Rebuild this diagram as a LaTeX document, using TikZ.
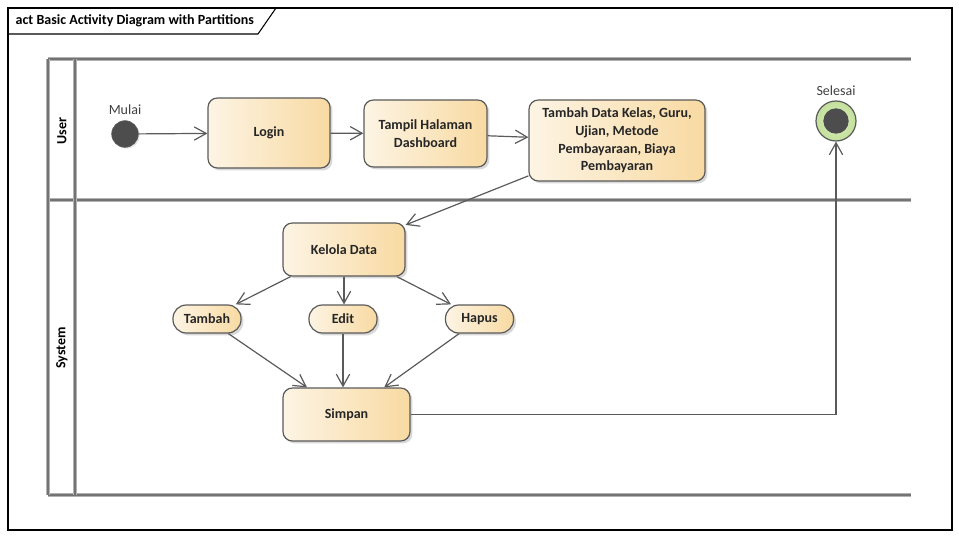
\documentclass[tikz,border=0pt]{standalone}
\usepackage{fontspec}
\setmainfont{Carlito}
\usetikzlibrary{arrows.meta,shadows}

\begin{document}
\begin{tikzpicture}[x=0.75pt,y=-0.75pt,font=\fontsize{10.5}{13}\selectfont,
  act/.style={draw=edge,line width=0.9pt,rounded corners=7pt,left color=actleft,right color=actright,
    text=black!85,font=\fontsize{10.5}{13.3}\selectfont\bfseries,align=center,
    drop shadow={shadow xshift=1.8pt,shadow yshift=-1.8pt,fill=black!25,opacity=.6}},
  pill/.style={act,rounded corners=10pt,minimum width=51pt,minimum height=21pt,inner sep=1pt},
  flow/.style={draw=edge,line width=0.9pt,-{Straight Barb[length=9pt,width=10pt,line width=0.9pt]}},
  lane/.style={draw=black!30,line width=2.4pt,postaction={draw=black!55,line width=1.1pt}}]
\definecolor{edge}{HTML}{5A5A5A}
\definecolor{actleft}{HTML}{FDF4E4}
\definecolor{actright}{HTML}{F8DAA2}
\definecolor{startfill}{HTML}{4D4D4D}
\definecolor{endfill}{HTML}{C3E09A}
\useasboundingbox (0,0) rectangle (959,538);
% frame and title tab
\draw[line width=0.8pt] (8,8) rectangle (952,530);
\draw[line width=0.8pt] (8,34) -- (258,34) -- (276,8);
\node[anchor=west,font=\fontsize{10.5}{13}\selectfont\bfseries] (title) at (11,21) {act Basic Activity Diagram with Partitions};
% partitions
\foreach \ly in {59,200,495}
  {\draw[lane] (48,\ly) -- (911,\ly);}
\foreach \lx in {48,75}
  {\draw[lane] (\lx,59) -- (\lx,495);}
\node[rotate=90,font=\fontsize{10.5}{13}\selectfont\bfseries] (user) at (62,131) {User};
\node[rotate=90,font=\fontsize{10.5}{13}\selectfont\bfseries] (system) at (62,348) {System};
% start / end
\node[circle,fill=startfill,draw=edge,minimum size=20pt,inner sep=0pt,label={[text=black!75,yshift=1pt]above:Mulai},
  drop shadow={shadow xshift=1pt,shadow yshift=-1pt,fill=black!20}] (mulai) at (125,134) {};
\node[circle,draw=edge,line width=0.9pt,inner color=endfill!60,outer color=endfill,minimum size=30pt,inner sep=0pt,
  label={[text=black!75]above:Selesai}] (selesai) at (836,121) {};
\node[circle,fill=startfill,minimum size=19pt,inner sep=0pt] (selesaidot) at (selesai) {};
% actions
\node[act,minimum width=91.5pt,minimum height=52.5pt] (login) at (269,133) {Login};
\node[act,minimum width=92.25pt,minimum height=50.25pt] (dash) at (425.5,133.5) {Tampil Halaman\\Dashboard};
\node[act,minimum width=132pt,minimum height=60.75pt,inner sep=2pt] (tdata) at (617,140.5)
  {Tambah Data Kelas, Guru,\\Ujian, Metode\\Pembayaraan, Biaya\\Pembayaran};
\node[act,minimum width=91.5pt,minimum height=39.75pt] (kelola) at (344,249.5) {Kelola Data};
\node[pill] (tambah) at (207,319) {Tambah};
\node[pill] (edit) at (343,319) {Edit};
\node[pill] (hapus) at (479.5,319) {Hapus};
\node[act,minimum width=95.25pt,minimum height=39.75pt] (simpan) at (346.5,414.5) {Simpan};
% flows
\draw[flow] (mulai) -- (login);
\draw[flow] (login) -- (dash);
\draw[flow] (dash) -- (tdata);
\draw[flow] (tdata) -- (kelola);
\draw[flow] (kelola) -- (tambah);
\draw[flow] (kelola.south) -- (kelola.south |- edit.north);
\draw[flow] (kelola) -- (hapus);
\draw[flow] (tambah) -- (simpan);
\draw[flow] (edit.south) -- (edit.south |- simpan.north);
\draw[flow] (hapus) -- (simpan);
\draw[flow] (simpan.east) -| (selesai.south);
\end{tikzpicture}
\end{document}
